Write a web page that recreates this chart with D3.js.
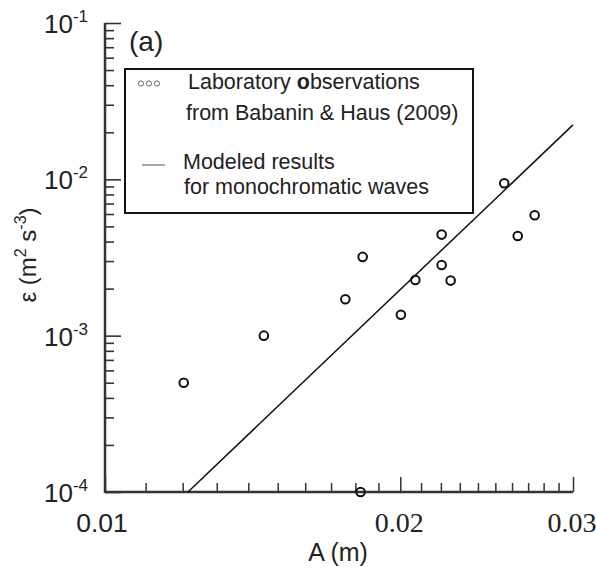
<!DOCTYPE html>
<html><head><meta charset="utf-8">
<script src="https://cdn.jsdelivr.net/npm/d3@7"></script>
<style>body{margin:0;background:#fff}svg{display:block}</style>
</head><body>
<svg id="c" width="596" height="572"></svg>
<script>
// Data
const obsA   = [0.01203,0.01452,0.01758,0.01831,0.02003,0.02072,0.02204,0.02204,0.02251,0.02635,0.01822,0.02553,0.02742];
const obsEps = [5.0e-4,1.0e-3,1.71e-3,3.19e-3,1.36e-3,2.27e-3,4.43e-3,2.83e-3,2.25e-3,4.34e-3,1.0e-4,9.43e-3,5.89e-3];
const modelA   = [0.01215,0.0300];
const modelEps = [1.0e-4,2.23e-2];
const xMajor = [0.01,0.02,0.03];
const xLabels = ["0.01","0.02","0.03"];
const xMinor = [0.011,0.012,0.013,0.014,0.015,0.016,0.017,0.018,0.019,0.021,0.022,0.023,0.024,0.025,0.026,0.027,0.028,0.029];
const yMajor = [1e-4,1e-3,1e-2,1e-1];
const yExp = ["-4","-3","-2","-1"];
const yMinor = [2e-4,3e-4,4e-4,5e-4,6e-4,7e-4,8e-4,9e-4,2e-3,3e-3,4e-3,5e-3,6e-3,7e-3,8e-3,9e-3,2e-2,3e-2,4e-2,5e-2,6e-2,7e-2,8e-2,9e-2];

const svg = d3.select("#c");
const x = d3.scaleLog().domain([0.01,0.03]).range([105,573]);
const y = d3.scaleLog().domain([1e-4,1e-1]).range([492,23]);
const axCol = "#333";
const sans = "Liberation Sans, Arial, sans-serif";
const serif = "Liberation Serif, Times New Roman, serif";

// x axis ticks (pointing up)
const gx = svg.append("g").attr("transform","translate(0,492)");
gx.append("g").call(d3.axisBottom(x).tickValues(xMinor).tickSizeInner(-9).tickSizeOuter(0).tickFormat(""));
gx.append("g").call(d3.axisBottom(x).tickValues(xMajor).tickSizeInner(-15).tickSizeOuter(0).tickFormat(""));
gx.selectAll("path.domain").remove();
gx.selectAll("line").attr("stroke",axCol).attr("stroke-width",1.5);

// y axis ticks (pointing right)
const gy = svg.append("g").attr("transform","translate(105,0)");
gy.append("g").call(d3.axisLeft(y).tickValues(yMinor).tickSizeInner(-9).tickSizeOuter(0).tickFormat(""));
gy.append("g").call(d3.axisLeft(y).tickValues(yMajor).tickSizeInner(-16).tickSizeOuter(0).tickFormat(""));
gy.selectAll("path.domain").remove();
gy.selectAll("line").attr("stroke",axCol).attr("stroke-width",1.6);

// axis lines
svg.append("line").attr("x1",x(0.01)).attr("x2",x(0.03)).attr("y1",y(1e-4)).attr("y2",y(1e-4)).attr("stroke",axCol).attr("stroke-width",2.5);
svg.append("line").attr("x1",x(0.01)).attr("x2",x(0.01)).attr("y1",y(1e-4)+1).attr("y2",y(1e-1)).attr("stroke",axCol).attr("stroke-width",2.5);

// x tick labels
svg.selectAll("text.xl").data(xMajor).enter().append("text")
  .attr("x",(d,i)=>x(d)-(i==0?3:1)).attr("y",532)
  .attr("text-anchor","middle")
  .attr("font-family",(d,i)=>i==0?sans:serif)
  .attr("font-size",(d,i)=>i==0?26.5:28).attr("fill","#222")
  .text((d,i)=>xLabels[i]);

// y tick labels
yMajor.forEach((d,i)=>{
  const t = svg.append("text").attr("x",44).attr("y",y(d)+10)
    .attr("font-family",sans).attr("font-size",26).attr("fill","#222");
  t.append("tspan").text("10");
  t.append("tspan").attr("font-size",17).attr("dy",-11).text(yExp[i]);
});

// axis titles
svg.append("text").attr("x",338).attr("y",561).attr("text-anchor","middle")
  .attr("font-family",sans).attr("font-size",25).attr("fill","#222").text("A (m)");
const yt = svg.append("text").attr("transform","translate(36,255) rotate(-90)").attr("text-anchor","middle")
  .attr("font-family",sans).attr("font-size",24).attr("fill","#222");
yt.append("tspan").text("ε (m");
yt.append("tspan").attr("font-size",16).attr("dy",-10).text("2");
yt.append("tspan").attr("dy",10).text(" s");
yt.append("tspan").attr("font-size",16).attr("dy",-10).text("-3");
yt.append("tspan").attr("dy",10).text(")");

// panel label
svg.append("text").attr("x",129).attr("y",51)
  .attr("font-family",sans).attr("font-size",28).attr("fill","#222").text("(a)");

// model line
svg.append("path").datum(modelA.map((a,i)=>[a,modelEps[i]]))
  .attr("d",d3.line().x(d=>x(d[0])).y(d=>y(d[1])))
  .attr("fill","none").attr("stroke","#111").attr("stroke-width",1.5);

// observations
svg.selectAll("circle.obs").data(obsA.map((a,i)=>[a,obsEps[i]])).enter().append("circle")
  .attr("cx",d=>x(d[0])).attr("cy",d=>y(d[1])).attr("r",4.3)
  .attr("fill","none").attr("stroke","#111").attr("stroke-width",2);

// legend
svg.append("rect").attr("x",125).attr("y",69).attr("width",348).attr("height",144)
  .attr("fill","#fff").attr("stroke","#111").attr("stroke-width",2);
[141,149,157].forEach(cx=>svg.append("circle").attr("cx",cx).attr("cy",83.5).attr("r",2.6)
  .attr("fill","none").attr("stroke","#666").attr("stroke-width",1));
svg.append("line").attr("x1",142).attr("x2",165).attr("y1",165).attr("y2",165).attr("stroke","#777").attr("stroke-width",1.3);
const lfs = 21.5;
const l1 = svg.append("text").attr("x",188).attr("y",89).attr("font-family",sans).attr("font-size",lfs).attr("fill","#222");
l1.append("tspan").text("Laboratory ");
l1.append("tspan").attr("font-weight","bold").text("o");
l1.append("tspan").text("bservations");
svg.append("text").attr("x",186).attr("y",120).attr("font-family",sans).attr("font-size",lfs).attr("fill","#222").text("from Babanin & Haus (2009)");
svg.append("text").attr("x",183).attr("y",169).attr("font-family",sans).attr("font-size",lfs).attr("fill","#222").text("Modeled results");
svg.append("text").attr("x",184).attr("y",194).attr("font-family",sans).attr("font-size",lfs).attr("fill","#222").text("for monochromatic waves");
</script>
</body></html>
